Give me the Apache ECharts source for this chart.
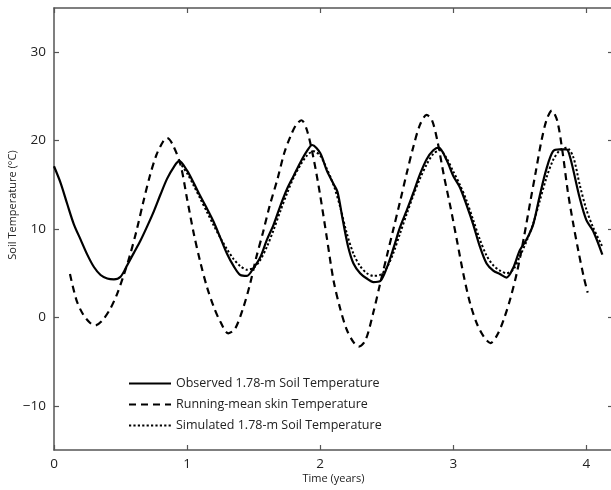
<!DOCTYPE html>
<html>
<head>
<meta charset="utf-8">
<script src="https://cdn.jsdelivr.net/npm/echarts@6/dist/echarts.min.js"></script>
<style>
  html, body { margin: 0; padding: 0; background: #fff; }
  #chart { width: 611px; height: 490px; }
</style>
</head>
<body>
<div id="chart"></div>
<script>
// Soil temperature at 1.78 m vs. skin temperature.
// Each list is [time (years), temperature (°C)].
const observed = [
  [0.00, 17.1], [0.05, 15.2], [0.10, 12.8], [0.15, 10.5], [0.20, 8.8], [0.25, 7.1],
  [0.30, 5.7], [0.35, 4.8], [0.40, 4.4], [0.45, 4.3], [0.50, 4.6], [0.55, 5.9],
  [0.60, 7.3], [0.65, 8.7], [0.70, 10.3], [0.75, 12.0], [0.80, 13.9], [0.85, 15.7],
  [0.90, 17.0], [0.94, 17.7], [1.00, 16.6], [1.05, 15.2], [1.10, 13.7], [1.15, 12.3],
  [1.20, 10.8], [1.25, 9.0], [1.30, 7.2], [1.35, 5.8], [1.40, 4.8], [1.45, 4.7],
  [1.50, 5.6], [1.55, 6.8], [1.60, 8.8], [1.65, 10.5], [1.70, 12.6], [1.75, 14.5],
  [1.80, 16.0], [1.85, 17.5], [1.90, 18.8], [1.94, 19.5], [2.00, 18.6], [2.05, 16.6],
  [2.10, 15.1], [2.13, 14.2], [2.17, 11.0], [2.21, 8.0], [2.25, 6.1], [2.30, 5.0],
  [2.35, 4.4], [2.40, 4.0], [2.45, 4.1], [2.50, 5.6], [2.55, 7.8], [2.60, 10.2],
  [2.65, 12.1], [2.70, 14.1], [2.75, 16.2], [2.80, 17.9], [2.85, 18.9], [2.89, 19.2],
  [2.95, 17.8], [3.00, 16.0], [3.05, 14.7], [3.10, 12.7], [3.15, 10.5], [3.20, 8.0],
  [3.25, 6.1], [3.30, 5.3], [3.35, 4.9], [3.40, 4.5], [3.45, 5.6], [3.50, 7.6],
  [3.55, 8.8], [3.60, 10.5], [3.65, 13.8], [3.70, 16.8], [3.75, 18.8], [3.80, 19.0],
  [3.85, 19.0], [3.88, 18.0], [3.95, 13.5], [4.00, 11.0], [4.05, 9.8], [4.12, 7.1]
];

const skinMean = [
  [0.12, 4.9], [0.17, 1.9], [0.22, 0.3], [0.27, -0.6], [0.31, -0.9], [0.36, -0.4],
  [0.42, 0.9], [0.47, 2.5], [0.52, 4.6], [0.57, 7.0], [0.62, 9.8], [0.67, 13.0],
  [0.72, 16.0], [0.77, 18.4], [0.82, 19.9], [0.85, 20.3], [0.89, 19.6], [0.95, 17.3],
  [1.00, 13.4], [1.05, 9.5], [1.10, 6.2], [1.15, 3.4], [1.20, 1.2], [1.25, -0.5],
  [1.31, -1.8], [1.36, -1.3], [1.42, 1.0], [1.47, 3.6], [1.52, 6.8], [1.57, 9.6],
  [1.62, 12.6], [1.68, 15.7], [1.73, 18.6], [1.78, 20.6], [1.82, 21.8], [1.86, 22.3],
  [1.90, 21.2], [1.95, 18.0], [2.00, 13.8], [2.05, 9.0], [2.10, 4.2], [2.15, 1.0],
  [2.20, -1.4], [2.25, -2.8], [2.29, -3.3], [2.34, -2.6], [2.40, 0.6], [2.45, 3.8],
  [2.50, 6.9], [2.55, 10.0], [2.60, 13.1], [2.65, 16.3], [2.70, 19.3], [2.75, 21.8],
  [2.80, 22.9], [2.84, 22.3], [2.88, 20.0], [2.93, 16.0], [2.98, 12.4], [3.03, 8.5],
  [3.08, 4.6], [3.13, 1.4], [3.18, -0.8], [3.23, -2.2], [3.28, -2.9], [3.33, -2.0],
  [3.38, -0.2], [3.43, 2.2], [3.48, 5.2], [3.53, 9.0], [3.58, 13.2], [3.62, 16.5],
  [3.66, 19.8], [3.70, 22.3], [3.74, 23.4], [3.78, 22.3], [3.82, 18.8], [3.86, 14.3],
  [3.90, 10.7], [3.94, 7.5], [3.98, 4.6], [4.01, 2.8]
];

const simulated = [
  [0.94, 17.6], [1.00, 16.3], [1.05, 14.9], [1.10, 13.4], [1.15, 11.9], [1.20, 10.4],
  [1.25, 9.0], [1.30, 7.7], [1.35, 6.6], [1.40, 5.8], [1.45, 5.4], [1.50, 5.6],
  [1.55, 6.5], [1.60, 8.0], [1.65, 9.9], [1.70, 12.0], [1.75, 14.0], [1.80, 15.8],
  [1.85, 17.2], [1.90, 18.3], [1.95, 18.8], [2.00, 18.3], [2.05, 16.8], [2.10, 15.0],
  [2.15, 12.5], [2.20, 9.5], [2.25, 7.2], [2.30, 5.8], [2.35, 5.0], [2.40, 4.7],
  [2.45, 4.8], [2.50, 5.6], [2.55, 7.3], [2.60, 9.5], [2.65, 11.7], [2.70, 13.8],
  [2.75, 15.7], [2.80, 17.3], [2.85, 18.5], [2.90, 18.9], [2.95, 18.0], [3.00, 16.5],
  [3.05, 15.0], [3.10, 13.2], [3.15, 11.0], [3.20, 8.8], [3.25, 7.0], [3.30, 5.9],
  [3.35, 5.3], [3.40, 5.0], [3.45, 5.4], [3.50, 6.9], [3.55, 8.6], [3.60, 10.6],
  [3.65, 13.2], [3.70, 15.8], [3.75, 17.8], [3.80, 18.9], [3.85, 19.2], [3.90, 18.2],
  [3.95, 15.0], [4.00, 12.2], [4.05, 10.2], [4.12, 8.0]
];

const xTicks = [0, 1, 2, 3, 4];
const yTicks = [-10, 0, 10, 20, 30];
const seriesNames = [
  'Observed 1.78-m Soil Temperature',
  'Running-mean skin Temperature',
  'Simulated 1.78-m Soil Temperature'
];

const FONT = 'Open Sans';
const TXT = '#222';
const AX = '#555';

const axisCommon = {
  axisLine: { show: true, onZero: false, lineStyle: { color: AX, width: 1.5 } },
  axisTick: { show: true, inside: true, length: 5, lineStyle: { color: AX, width: 1.2 } },
  splitLine: { show: false }
};

const chart = echarts.init(document.getElementById('chart'), null, { renderer: 'canvas' });

chart.setOption({
  animation: false,
  backgroundColor: '#fff',
  textStyle: { fontFamily: FONT },
  grid: { left: 54, top: 8, width: 559, height: 442, containLabel: false, outerBoundsMode: 'none' },
  legend: {
    orient: 'vertical',
    left: 123,
    top: 372,
    itemWidth: 42,
    itemHeight: 10,
    itemGap: 8,
    data: seriesNames,
    itemStyle: { opacity: 0 },
    textStyle: { fontFamily: FONT, fontSize: 12.5, color: TXT }
  },
  xAxis: [
    Object.assign({}, axisCommon, {
      type: 'value', min: 0, max: 4.2, position: 'bottom',
      name: 'Time (years)', nameLocation: 'middle', nameGap: 23, nameMoveOverlap: false,
      nameTextStyle: { fontFamily: FONT, fontSize: 11, color: TXT },
      axisTick: Object.assign({}, axisCommon.axisTick, { customValues: xTicks }),
      axisLabel: { customValues: xTicks, margin: 7, fontFamily: FONT, fontSize: 13.5, color: TXT }
    }),
    Object.assign({}, axisCommon, {
      type: 'value', min: 0, max: 4.2, position: 'top',
      axisTick: Object.assign({}, axisCommon.axisTick, { customValues: xTicks }),
      axisLabel: { show: false }
    })
  ],
  yAxis: [
    Object.assign({}, axisCommon, {
      type: 'value', min: -15, max: 35, position: 'left',
      name: 'Soil Temperature (°C)', nameLocation: 'middle', nameGap: 36, nameRotate: 90,
      nameMoveOverlap: false,
      nameTextStyle: { fontFamily: FONT, fontSize: 11, color: TXT, padding: [0, 0, 0, 48] },
      axisTick: Object.assign({}, axisCommon.axisTick, { customValues: yTicks }),
      axisLabel: {
        customValues: yTicks, margin: 8, fontFamily: FONT, fontSize: 13.5, color: TXT,
        formatter: v => (v < 0 ? '\u2212' + Math.abs(v) : String(v))
      }
    }),
    Object.assign({}, axisCommon, {
      type: 'value', min: -15, max: 35, position: 'right',
      axisTick: Object.assign({}, axisCommon.axisTick, { customValues: yTicks }),
      axisLabel: { show: false }
    })
  ],
  series: [
    {
      name: seriesNames[0], type: 'line', data: observed, smooth: 0.3,
      symbol: 'none', lineStyle: { color: '#000', width: 2.2, type: 'solid' },
      itemStyle: { color: '#000' }
    },
    {
      name: seriesNames[1], type: 'line', data: skinMean, smooth: 0.3,
      symbol: 'none', lineStyle: { color: '#000', width: 2.2, type: [7, 5] },
      itemStyle: { color: '#000' }
    },
    {
      name: seriesNames[2], type: 'line', data: simulated, smooth: 0.3,
      symbol: 'none', lineStyle: { color: '#000', width: 2, type: [2.2, 2.2] },
      itemStyle: { color: '#000' }
    }
  ]
});
</script>
</body>
</html>
